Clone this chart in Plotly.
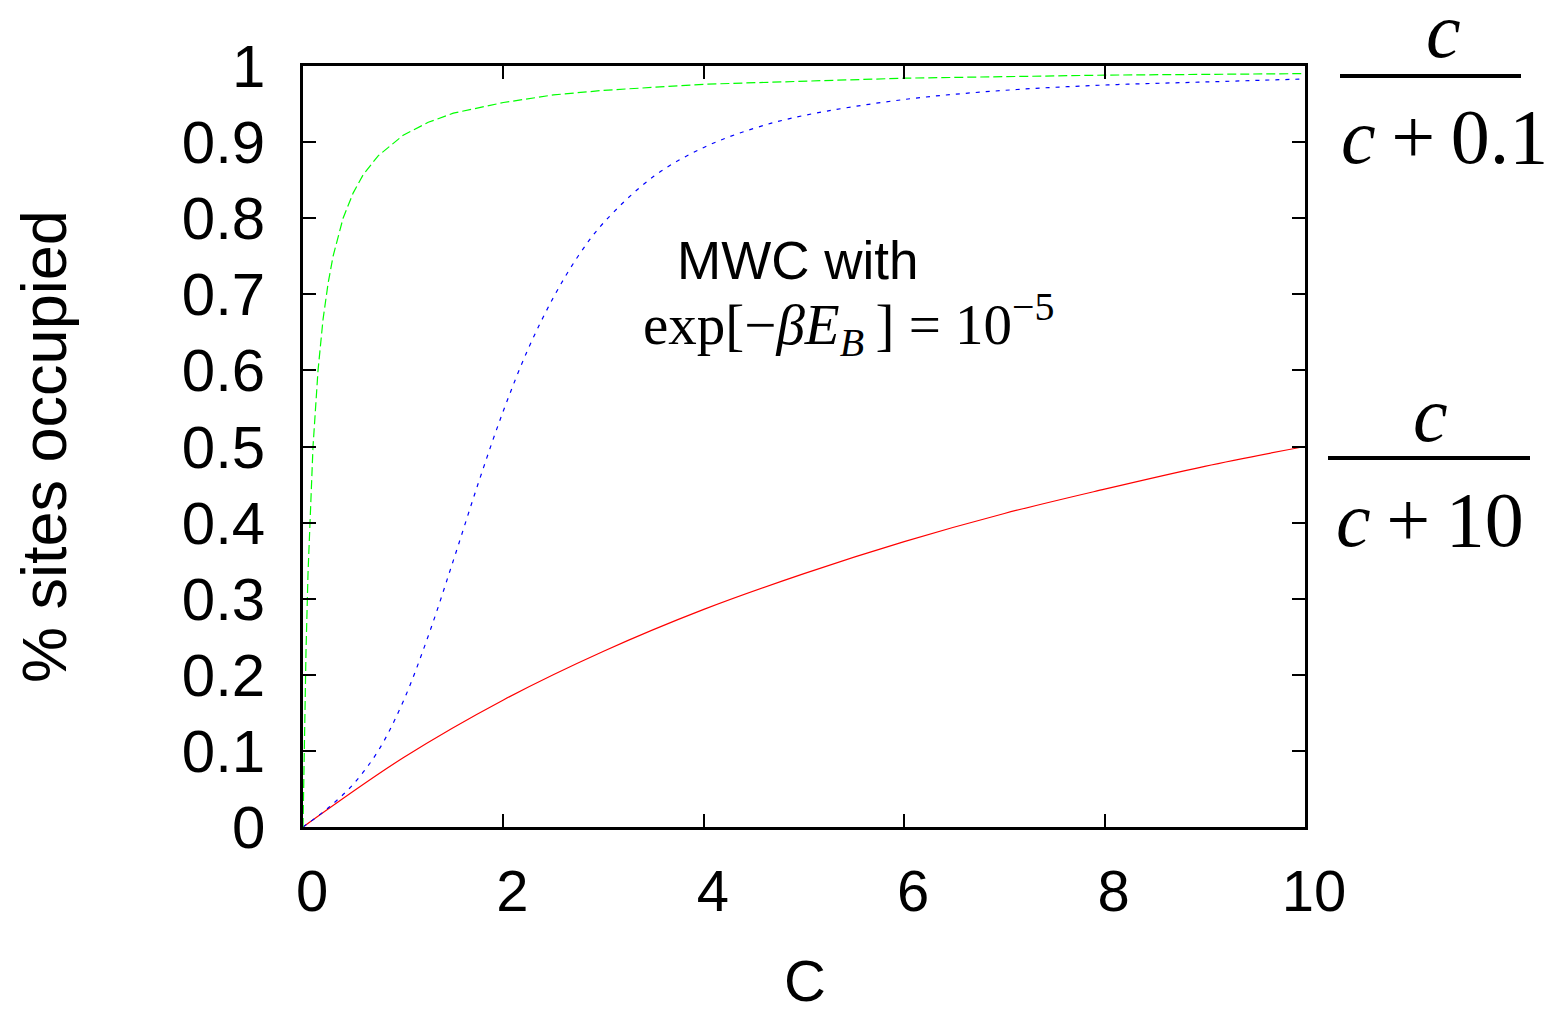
import plotly.graph_objects as go

# ---- data ----
c_green = [0, 0.005, 0.01, 0.02, 0.03, 0.05, 0.075, 0.1, 0.15, 0.2, 0.25, 0.3, 0.4, 0.5,
           0.6, 0.75, 1.0, 1.25, 1.5, 2, 2.5, 3, 4, 5, 6, 7, 8, 9, 10]
p_green = [0, 0.048, 0.091, 0.167, 0.231, 0.333, 0.429, 0.5, 0.6, 0.667, 0.714, 0.75, 0.8, 0.833,
           0.857, 0.882, 0.909, 0.926, 0.938, 0.952, 0.962, 0.968, 0.976, 0.980, 0.984, 0.986, 0.988, 0.989, 0.990]

c_blue = [0, 0.25, 0.5, 0.75, 1, 1.25, 1.5, 1.75, 2, 2.25, 2.5, 2.75, 3, 3.5, 4, 4.5, 5, 6, 7, 8, 9, 10]
p_blue = [0, 0.025, 0.056, 0.100, 0.165, 0.251, 0.350, 0.452, 0.547, 0.629, 0.696, 0.751, 0.794,
          0.855, 0.893, 0.918, 0.935, 0.956, 0.968, 0.975, 0.979, 0.983]

c_red = [0, 1, 2, 3, 4, 5, 6, 7, 8, 9, 10]
p_red = [0, 0.091, 0.167, 0.231, 0.286, 0.333, 0.375, 0.412, 0.444, 0.474, 0.5]

x_ticks = [0, 2, 4, 6, 8, 10]
y_ticks = [0, 0.1, 0.2, 0.3, 0.4, 0.5, 0.6, 0.7, 0.8, 0.9, 1]
y_ticklabels = ["0", "0.1", "0.2", "0.3", "0.4", "0.5", "0.6", "0.7", "0.8", "0.9", "1"]

SANS = "Liberation Sans, Arial, Helvetica, sans-serif"
SERIF = "Liberation Serif, Times New Roman, serif"

fig = go.Figure()
fig.add_trace(go.Scatter(x=c_red, y=p_red, mode="lines", line=dict(color="#ff0000", width=1.2, shape="spline"),
                         name="c/(c+10)", showlegend=False))
fig.add_trace(go.Scatter(x=c_blue, y=p_blue, mode="lines",
                         line=dict(color="#0000ff", width=1.2, dash="4px,6px", shape="spline"),
                         name="MWC", showlegend=False))
fig.add_trace(go.Scatter(x=c_green, y=p_green, mode="lines",
                         line=dict(color="#00ff00", width=1.2, dash="9px,4px"),
                         name="c/(c+0.1)", showlegend=False))

L, R, T, B = 303, 1305, 66, 827
W, H = 1551, 1013


def px(X):
    return (X - L) / (R - L)


def py(Y):
    return (B - Y) / (B - T)


axis_common = dict(showgrid=False, zeroline=False, showline=True, linecolor="black", linewidth=2.5,
                   mirror="ticks", ticks="inside", ticklen=13, tickwidth=2, tickcolor="black")

fig.update_layout(
    width=W, height=H,
    margin=dict(l=L, r=W - R, t=T, b=H - B, autoexpand=False),
    paper_bgcolor="white", plot_bgcolor="white",
    xaxis=dict(range=[0, 10], tickvals=x_ticks, ticktext=[str(v) for v in x_ticks],
               tickfont=dict(family=SANS, size=58, color="black"), ticklabelstandoff=12,
               ticklabelshift=9, **axis_common),
    yaxis=dict(range=[0, 1], tickvals=y_ticks, ticktext=y_ticklabels,
               tickfont=dict(family=SANS, size=60, color="black"), ticklabelstandoff=23, **axis_common),
)

ann = []
# axis titles
ann.append(dict(text="% sites occupied", x=px(44), y=py(447), xref="paper", yref="paper",
                textangle=-90, showarrow=False, xanchor="center", yanchor="middle",
                font=dict(family=SANS, size=63, color="black")))
ann.append(dict(text="C", x=px(805), y=py(980), xref="paper", yref="paper",
                showarrow=False, xanchor="center", yanchor="middle",
                font=dict(family=SANS, size=58, color="black")))
# MWC label
ann.append(dict(text="MWC with", x=px(797), y=py(260), xref="paper", yref="paper",
                showarrow=False, xanchor="center", yanchor="middle",
                font=dict(family=SANS, size=53, color="black")))
ann.append(dict(text="exp[\u2212<i>\u03b2E<sub>B</sub></i>\u2009] = 10<sup>\u22125</sup>", x=px(849), y=py(324),
                xref="paper", yref="paper", showarrow=False, xanchor="center", yanchor="middle",
                font=dict(family=SERIF, size=57, color="black")))
# right-hand fractions
FR = 78
ann.append(dict(text="<i>c</i>", x=px(1443), y=py(30), xref="paper", yref="paper",
                showarrow=False, xanchor="center", yanchor="middle",
                font=dict(family=SERIF, size=FR, color="black")))
ann.append(dict(text="<i>c</i>\u2009+\u20090.1", x=px(1444), y=py(136), xref="paper", yref="paper",
                showarrow=False, xanchor="center", yanchor="middle",
                font=dict(family=SERIF, size=FR, color="black")))
ann.append(dict(text="<i>c</i>", x=px(1430), y=py(414), xref="paper", yref="paper",
                showarrow=False, xanchor="center", yanchor="middle",
                font=dict(family=SERIF, size=FR, color="black")))
ann.append(dict(text="<i>c</i>\u2009+\u200910", x=px(1430), y=py(519), xref="paper", yref="paper",
                showarrow=False, xanchor="center", yanchor="middle",
                font=dict(family=SERIF, size=FR, color="black")))
fig.update_layout(annotations=ann)

fig.add_shape(type="line", xref="paper", yref="paper", x0=px(1340), x1=px(1521), y0=py(76), y1=py(76),
              line=dict(color="black", width=4))
fig.add_shape(type="line", xref="paper", yref="paper", x0=px(1328), x1=px(1530), y0=py(458), y1=py(458),
              line=dict(color="black", width=4))

fig.write_html("out.html", config={"displayModeBar": False},
               post_script="document.body.style.margin='0px';document.body.style.padding='0px';")
